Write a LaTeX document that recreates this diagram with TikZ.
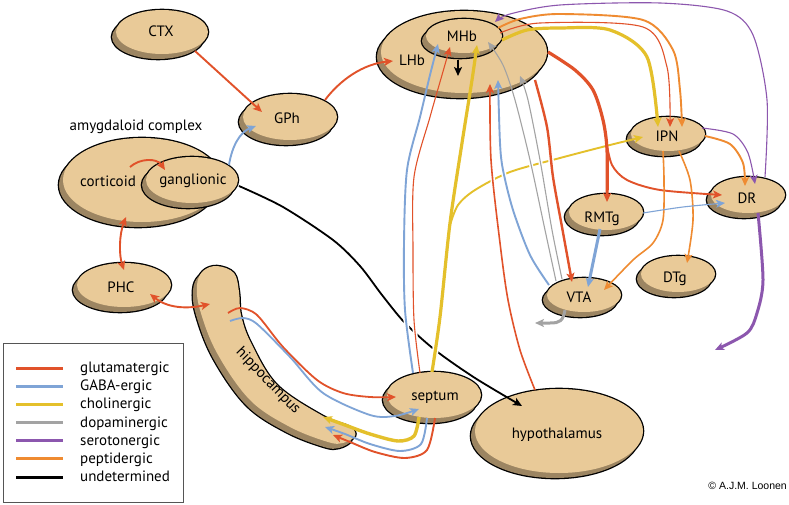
\documentclass[tikz,border=0pt]{standalone}
\usepackage{fontspec}
\setmainfont{PT Sans}
\newfontfamily\copyfont{Liberation Sans}
\usetikzlibrary{arrows.meta,calc,shapes.geometric}
\definecolor{cglu}{HTML}{E1522A}
\definecolor{cgaba}{HTML}{7FA4D6}
\definecolor{cchol}{HTML}{E4C02B}
\definecolor{cdopa}{HTML}{A3A3A3}
\definecolor{csero}{HTML}{8C57AE}
\definecolor{cpept}{HTML}{EF8B31}
\definecolor{tanfill}{HTML}{E9CA98}
\definecolor{tanshade}{HTML}{9C8562}
\definecolor{legbox}{HTML}{555555}
\tikzset{
  lab/.style={font=\fontsize{15}{18}\selectfont, inner sep=0pt},
  outl/.style={draw=black, line width=2.6pt},
  wA/.style={line width=1.1pt},
  wB/.style={line width=1.9pt},
  wC/.style={line width=3pt},
  arr/.style={-{Stealth[length=9pt,width=8pt,inset=2.2pt]}},
  darr/.style={{Stealth[length=9pt,width=8pt,inset=2.2pt]}-{Stealth[length=9pt,width=8pt,inset=2.2pt]}},
  cas/.style={draw=white, line width=#1},
}
\newcommand\mkblob[6]{%
  \path[outl,shift={(-4,5)}] #2 ellipse[x radius=#3,y radius=#4];
  \path[outl] #2 ellipse[x radius=#3,y radius=#4];
  \path[fill=tanshade,shift={(-4,5)}] #2 ellipse[x radius=#3,y radius=#4];
  \path[fill=tanfill] #2 ellipse[x radius=#3,y radius=#4];
  \node[ellipse,inner sep=0pt,minimum width=#3*2pt,minimum height=#4*2pt] (#1) at #2 {};
  \node[lab,anchor=base] (#1-t) at ($(#1)+#6$) {#5};
}
\begin{document}
\begin{tikzpicture}[x=1pt,y=-1pt]
\useasboundingbox (0,0) rectangle (789,505);
\fill[white] (0,0) rectangle (789,505);

% hippocampus
\def\pHip{plot[smooth cycle,tension=0.6] coordinates {(217,266) (234,273) (239,292) (241,315) (251,343) (277,385) (323,416) (350,427) (355,436) (343,443) (328,442) (290,427) (250,400) (217,353) (200,310) (197,285) (203,271)}}
\path[outl,shift={(-4,5)}] \pHip;
\path[outl] \pHip;
\path[fill=tanshade,shift={(-4,5)}] \pHip;
\path[fill=tanfill] \pHip;
\node[lab,rotate=-46] (hip) at (268,381) {hippocampus};
\coordinate (hipt) at (217,290);
\coordinate (hipb) at (340,432);

% regions
\mkblob{ctx}{(162,32)}{46}{22}{CTX}{(-1,5)}
\mkblob{gph}{(290,117)}{47}{23}{GPh}{(-3,7)}
\mkblob{cort}{(142,180)}{79}{42}{corticoid}{(-34,6)}
\mkblob{gang}{(192,180)}{46}{23}{ganglionic}{(1,5)}
\mkblob{phc}{(124,285)}{47}{22}{PHC}{(-3,7)}
\mkblob{lhb}{(464,52)}{83}{41}{LHb}{(-52,14)}
\mkblob{mhb}{(464,36)}{38}{17}{MHb}{(-2,6)}
\mkblob{ipn}{(668,134)}{37}{17}{IPN}{(-1,8)}
\mkblob{dr}{(748,195)}{37}{18}{DR}{(-1,9)}
\mkblob{rmtg}{(606,212)}{37}{18}{RMTg}{(-4,10)}
\mkblob{dtg}{(678,274)}{37}{18}{DTg}{(-3,8)}
\mkblob{vta}{(584,295)}{37}{17}{VTA}{(-5,7)}
\mkblob{septum}{(434,395)}{47}{23}{septum}{(1,5)}
\mkblob{hypo}{(559,431)}{84}{42}{hypothalamus}{(-2,7)}
\node[lab,anchor=base] (amyg) at (136,131) {amygdaloid complex};

% paths that get crossed
\def\pBlueS{plot[smooth] coordinates {($(septum)+(-21,-22)$) (405,310) (404,243) (407,170) (420,117) (430,75) ($(mhb)+(-26,8)$)}}
\def\pRedS{plot[smooth] coordinates {($(septum)+(-14,-22)$) (414,320) (413,250) (414,177) (430,117) (442,75) ($(mhb)+(-14,11)$)}}
\def\pYelS{plot[smooth] coordinates {($(septum)+(-2,-23)$) (440,317) (450,223) (462,143) (472,80) ($(mhb)+(13,9)$)}}
\def\pRedH{plot[smooth] coordinates {($(hypo)+(-24,-41)$) (520,350) (508,300) (500,243) (491,160) ($(lhb)+(26,32)$)}}
\def\pBlueV{plot[smooth] coordinates {($(vta)+(-35,-10)$) (530,255) (513,210) (503,170) (500,143) ($(lhb)+(34,28)$)}}
\def\pGreyA{plot[smooth] coordinates {($(vta)+(-28,-14)$) (545,230) (530,160) (515,100) (503,65) ($(mhb)+(24,6)$)}}
\def\pGreyB{plot[smooth] coordinates {($(vta)+(-22,-16)$) (552,230) (540,160) (528,100) ($(lhb)+(56,24)$)}}
\def\pRedV{plot[smooth] coordinates {($(lhb)+(71,28)$) (547,127) (553,177) (562,227) ($(vta)+(-12,-13)$)}}

% black: ganglionic -> hypothalamus
\draw[black,line width=1.8pt,arr] plot[smooth] coordinates {($(gang)+(47,6)$) (283,207) (333,240) (360,266) (382,295) (405,323) (435,350) (475,378) ($(hypo)+(-37,-25)$)};
% yellow branch to IPN
\draw[cchol,wB,arr] plot[smooth] coordinates {(450,225) (458,205) (475,190) (510,172) (560,158) (610,145) ($(ipn)+(-25,3)$)};

% casings
\begin{scope}
\clip (395,300) rectangle (452,368);
\draw[cas=5pt] \pBlueS;
\draw[cas=4.5pt] \pRedS;
\draw[cas=6.5pt] \pYelS;
\end{scope}
\begin{scope}
\clip (480,140) rectangle (566,205);
\draw[cas=4.5pt] \pRedH;
\draw[cas=5pt] \pBlueV;
\draw[cas=4pt] \pGreyA;
\draw[cas=4pt] \pGreyB;
\draw[cas=5.5pt] \pRedV;
\end{scope}

% septum -> habenula
\draw[cgaba,wB,arr] \pBlueS;
\draw[cglu,wA,arr] \pRedS;
\draw[cchol,line width=3.2pt,arr] \pYelS;
% into LHb/MHb from below
\draw[cglu,line width=1.6pt,arr] \pRedH;
\draw[cgaba,wB,arr] \pBlueV;
\draw[cdopa,wA,arr] \pGreyA;
\draw[cdopa,wA,arr] \pGreyB;
\draw[cglu,line width=2.4pt,arr] \pRedV;

% left part
\draw[cglu,wB,arr] ($(ctx)+(33,19)$) -- ($(gph)+(-28,-5)$);
\draw[cglu,wB,arr] ($(gph)+(35,-17)$) .. controls (340,80) and (363,64) .. ($(lhb)+(-71,9)$);
\draw[cgaba,wB,arr] ($(gang)+(37,-15)$) .. controls (232,146) and (240,132) .. ($(gph)+(-34,9)$);
\draw[cglu,wB,arr] ($(cort)+(-12,-13)$) .. controls (140,158) and (157,158) .. ($(gang)+(-27,-10)$);
\draw[cglu,wB,darr] ($(cort)+(-16,37)$) .. controls (119,235) and (119,255) .. ($(phc)+(0,-15)$);
\draw[cglu,wB,darr] ($(phc)+(26,9)$) .. controls (170,310) and (192,308) .. ($(hipt)+(-7,14)$);

% hippocampus <-> septum
\draw[cglu,line width=1.8pt,arr] plot[smooth] coordinates {($(hipt)+(11,23)$) (240,308) (257,315) (283,347) (317,380) (343,393) (370,397) ($(septum)+(-38,2)$)};
\draw[cgaba,line width=1.8pt,arr] plot[smooth] coordinates {($(hipt)+(13,31)$) (243,318) (257,324) (290,357) (323,393) (370,415) (395,416) ($(septum)+(-15,14)$)};
\draw[cchol,line width=3.4pt,arr] plot[smooth] coordinates {($(septum)+(-15,22)$) (414,436) (398,441) (370,434) (345,425) ($(hipb)+(-17,-15)$)};
\draw[cgaba,wB,arr] plot[smooth] coordinates {($(septum)+(-7,23)$) (421,444) (400,451) (370,444) (345,434) ($(hipb)+(-15,-5)$)};
\draw[cglu,wB,arr] plot[smooth] coordinates {($(septum)+(1,23)$) (427,450) (405,458) (375,452) (350,442) ($(hipb)+(-7,3)$)};

% habenula -> midbrain
\draw[cglu,line width=3.2pt,arr] plot[smooth] coordinates {($(lhb)+(84,0)$) (575,70) (593,90) (603,120) (607,150) ($(rmtg)+(1,-10)$)};
\draw[cglu,wB,arr] plot[smooth] coordinates {(606,140) (612,165) (627,180) (660,190) ($(dr)+(-26,0)$)};
\draw[cpept,wB,arr] plot[smooth] coordinates {($(mhb)+(34,-8)$) (520,19) (560,14) (643,20) (673,50) (680,90) ($(ipn)+(14,-7)$)};
\draw[cglu,wA,arr] plot[smooth] coordinates {($(mhb)+(36,-3)$) (540,23) (643,27) (667,67) ($(ipn)+(2,-7)$)};
\draw[cchol,line width=3.2pt,arr] plot[smooth] coordinates {($(mhb)+(38,4)$) (527,30) (560,28) (610,30) (647,57) ($(ipn)+(-10,-7)$)};
\draw[csero,wA,arr] plot[smooth] coordinates {($(dr)+(17,-18)$) (767,100) (753,35) (727,11) (660,3) (560,5) (510,14) ($(mhb)+(31,-14)$)};
\draw[csero,wA,arr] plot[smooth] coordinates {($(ipn)+(34,-6)$) (733,134) (748,153) ($(dr)+(7,-11)$)};
\draw[cpept,wB,arr] plot[smooth] coordinates {($(ipn)+(37,2)$) (730,144) (743,163) ($(dr)+(-3,-9)$)};
\draw[cpept,line width=1.6pt,arr] plot[smooth] coordinates {($(ipn)+(-5,17)$) (664,180) (663,220) (653,243) (633,260) ($(vta)+(20,-5)$)};
\draw[cpept,line width=1.6pt,arr] plot[smooth] coordinates {($(ipn)+(11,17)$) (690,180) (693,220) ($(dtg)+(9,-11)$)};
\draw[cgaba,wA,arr] plot[smooth] coordinates {($(rmtg)+(37,1)$) (683,207) ($(dr)+(-23,8)$)};
\draw[cgaba,wC,arr] ($(rmtg)+(-6,17)$) -- ($(vta)+(4,-8)$);
\coordinate (vout) at (535,323);
\draw[cdopa,wC,arr] ($(vta)+(-19,15)$) .. controls (563,321) and (560,323) .. (550,323) -- (vout);
\coordinate (sout) at (715,350);
\draw[csero,wC,arr] plot[smooth] coordinates {($(dr)+(10,18)$) (763,280) (757,313) (747,333) (sout)};
\draw[black,wB,arr] ($(mhb)+(-6,24)$) -- ($(mhb)+(-6,40)$);

% legend
\draw[legbox,line width=1pt] (3,343) rectangle (183,502);
\foreach \c/\t [count=\i from 0] in {cglu/glutamatergic,cgaba/GABA-ergic,cchol/cholinergic,cdopa/dopaminergic,csero/serotonergic,cpept/peptidergic,black/undetermined}{
  \draw[\c,wC] (16,368+18.17*\i) -- (63,368+18.17*\i);
  \node[lab,anchor=base west] (leg\i) at (80,372.5+18.17*\i) {\t};
}
\node[font=\copyfont\fontsize{10.5}{12}\selectfont,inner sep=0pt,anchor=base east] (copy) at (787,489) {© A.J.M. Loonen};
\end{tikzpicture}
\end{document}
